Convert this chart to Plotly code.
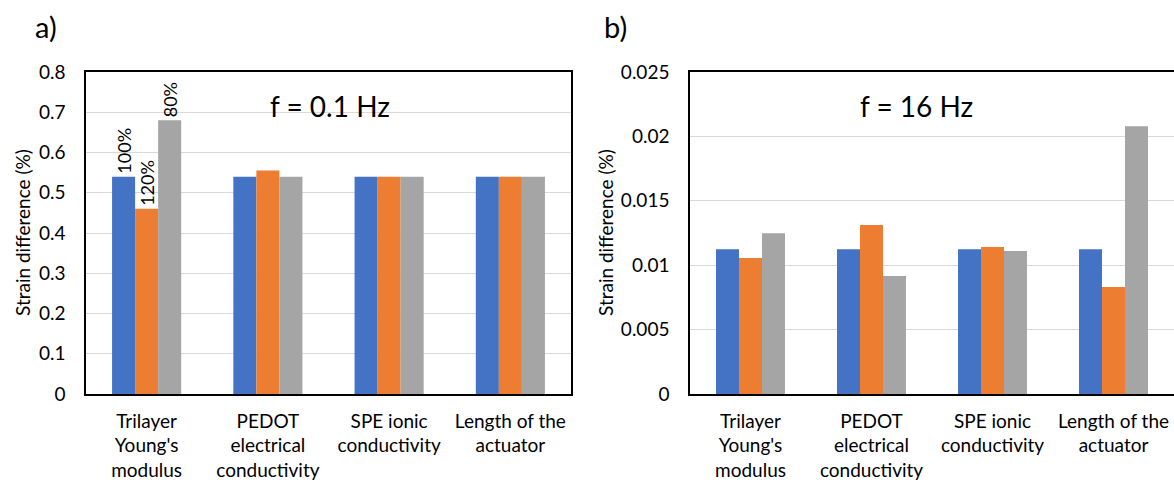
import plotly.graph_objects as go

categories = ["Trilayer<br>Young's<br>modulus", "PEDOT<br>electrical<br>conductivity",
              "SPE ionic<br>conductivity", "Length of the<br>actuator"]
series_names = ["100%", "120%", "80%"]
colors = ["#4472C4", "#ED7D31", "#A5A5A5"]

# panel a) f = 0.1 Hz
a_100 = [0.54, 0.54, 0.54, 0.54]
a_120 = [0.46, 0.555, 0.54, 0.54]
a_80 = [0.68, 0.54, 0.54, 0.54]

# panel b) f = 16 Hz
b_100 = [0.01123, 0.01123, 0.01123, 0.01123]
b_120 = [0.01056, 0.01313, 0.01141, 0.00831]
b_80 = [0.01249, 0.00916, 0.0111, 0.02078]

a_ticks = [0, 0.1, 0.2, 0.3, 0.4, 0.5, 0.6, 0.7, 0.8]
a_ticktext = ["0", "0.1", "0.2", "0.3", "0.4", "0.5", "0.6", "0.7", "0.8"]
b_ticks = [0, 0.005, 0.01, 0.015, 0.02, 0.025]
b_ticktext = ["0", "0.005", "0.01", "0.015", "0.02", "0.025"]

W, H = 1174, 484
FONT = "Lato"

fig = go.Figure()

for vals, name, col in zip([a_100, a_120, a_80], series_names, colors):
    fig.add_trace(go.Bar(
        x=categories, y=vals, name=name, marker_color=col,
        marker_line_width=0,
        text=[name, "", "", ""], textposition="outside", textangle=-90,
        constraintext="none", cliponaxis=False,
        textfont=dict(family=FONT, size=18, color="#000000"),
        xaxis="x", yaxis="y", showlegend=False))

for vals, name, col in zip([b_100, b_120, b_80], series_names, colors):
    fig.add_trace(go.Bar(
        x=categories, y=vals, name=name, marker_color=col,
        marker_line_width=0,
        xaxis="x2", yaxis="y2", showlegend=False))

ydom = [1 - 394 / H, 1 - 72 / H]
xtick_font = dict(family=FONT, size=19, color="#000000")
ytick_font = dict(family=FONT, size=19, color="#000000")

common_x = dict(showline=True, linecolor="#000000", linewidth=1.5, mirror=True,
                showgrid=False, tickfont=xtick_font, ticks="", ticklabelstandoff=9,
                fixedrange=True, automargin=False)
common_y = dict(showline=True, linecolor="#000000", linewidth=1.5,
                showgrid=True, gridcolor="#D9D9D9", gridwidth=1, zeroline=False,
                tickfont=ytick_font, ticks="", ticklabelstandoff=15, fixedrange=True,
                automargin=False)

fig.update_layout(
    width=W, height=H, autosize=False,
    margin=dict(l=0, r=0, t=0, b=0, pad=0),
    paper_bgcolor="white", plot_bgcolor="white",
    barmode="group", bargap=0.43, bargroupgap=0,
    font=dict(family=FONT, color="#000000"),
    xaxis=dict(domain=[86 / W, 571 / W], anchor="y", **common_x),
    yaxis=dict(domain=ydom, anchor="x", range=[0, 0.8], tickvals=a_ticks,
               ticktext=a_ticktext, mirror=True, **common_y),
    xaxis2=dict(domain=[690 / W, 1.0], anchor="y2", **common_x),
    yaxis2=dict(domain=ydom, anchor="x2", range=[0, 0.025], tickvals=b_ticks,
                ticktext=b_ticktext, mirror=False, **common_y),
    annotations=[
        dict(text="a)", x=46 / W, y=1 - 27 / H, xref="paper", yref="paper",
             showarrow=False, font=dict(family=FONT, size=29), xanchor="center", yanchor="middle"),
        dict(text="b)", x=615 / W, y=1 - 27 / H, xref="paper", yref="paper",
             showarrow=False, font=dict(family=FONT, size=29), xanchor="center", yanchor="middle"),
        dict(text="f = 0.1 Hz", x=330 / W, y=1 - 106 / H, xref="paper", yref="paper",
             showarrow=False, font=dict(family=FONT, size=28), xanchor="center", yanchor="middle"),
        dict(text="f = 16 Hz", x=916 / W, y=1 - 106 / H, xref="paper", yref="paper",
             showarrow=False, font=dict(family=FONT, size=28), xanchor="center", yanchor="middle"),
        dict(text="Strain difference (%)", x=22 / W, y=1 - 233 / H, xref="paper", yref="paper",
             showarrow=False, textangle=-90, font=dict(family=FONT, size=19),
             xanchor="center", yanchor="middle"),
        dict(text="Strain difference (%)", x=605 / W, y=1 - 233 / H, xref="paper", yref="paper",
             showarrow=False, textangle=-90, font=dict(family=FONT, size=19),
             xanchor="center", yanchor="middle"),
    ],
)

post = ("document.body.style.margin='0';document.body.style.padding='0';"
        "document.documentElement.style.overflow='hidden';document.body.style.overflow='hidden';")
fig.write_html("out.html", post_script=post, config={"displayModeBar": False})
